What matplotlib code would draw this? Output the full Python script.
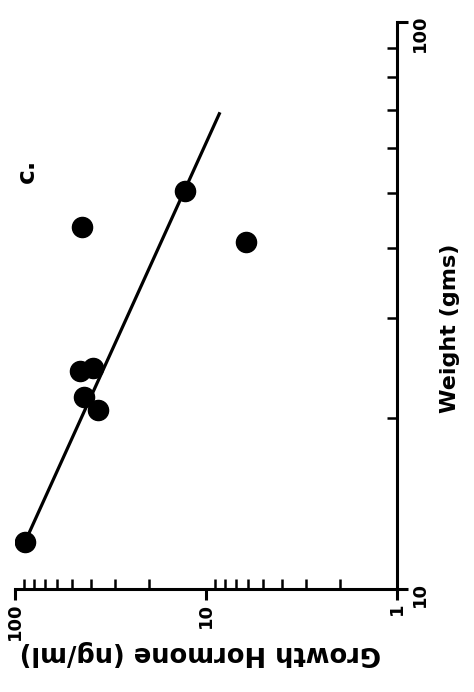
import matplotlib
matplotlib.use("Agg")
import matplotlib.pyplot as plt
from matplotlib.ticker import LogLocator, NullFormatter, FixedLocator

# growth hormone (ng/ml) vs body weight (gms), panel c
weight = [12.1, 24.2, 24.5, 21.8, 20.7, 43.5, 50.4, 40.9]
hormone = [88.7, 45.7, 39.1, 43.6, 36.7, 44.6, 12.9, 6.18]

# fitted line end points (weight, hormone)
fit_weight = [12.1, 69.3]
fit_hormone = [88.7, 8.45]

gh_ticks = [1, 10, 100]
gh_labels = ["1", "10", "100"]
wt_ticks = [10, 100]
wt_labels = ["10", "100"]

plt.rcParams['font.family'] = ['DejaVu Sans']

fig = plt.figure(figsize=(4.74, 6.92), dpi=100)
ax = fig.add_axes([15 / 474, 1 - 589 / 692, 382 / 474, 567 / 692])

# page is turned on its side: hormone runs along the bottom, weight up the right
ax.plot(fit_hormone, fit_weight, color='black', lw=2.3, solid_capstyle='butt')
ax.plot(hormone, weight, 'o', color='black', ms=14.5, mec='black')

ax.set_xscale('log')
ax.set_yscale('log')
ax.set_xlim(100, 1)
ax.set_ylim(10, 100)

for side in ['top', 'left']:
    ax.spines[side].set_visible(False)
for side in ['bottom', 'right']:
    ax.spines[side].set_linewidth(2.2)

ax.xaxis.set_major_locator(FixedLocator(gh_ticks))
ax.set_xticklabels(gh_labels, rotation=90, fontsize=13, fontweight='bold')
ax.xaxis.set_minor_locator(LogLocator(base=10, subs=range(2, 10)))
ax.xaxis.set_minor_formatter(NullFormatter())

ax.yaxis.tick_right()
ax.yaxis.set_label_position('right')
ax.yaxis.set_major_locator(FixedLocator(wt_ticks))
ax.set_yticklabels(wt_labels, rotation=90, fontsize=13, fontweight='bold')
ax.yaxis.set_minor_locator(LogLocator(base=10, subs=range(2, 10)))
ax.yaxis.set_minor_formatter(NullFormatter())

ax.tick_params(which='major', direction='out', length=8, width=2.2, pad=2)
ax.tick_params(which='minor', direction='in', length=7, width=1.8)

ax.set_xlabel("Growth Hormone (ng/ml)", rotation=180, fontsize=18.5,
              fontweight='bold', va='center')
ax.xaxis.set_label_coords(0.484, -0.112)
ax.set_ylabel("Weight (gms)", rotation=90, fontsize=16,
              fontweight='bold', va='center')
ax.yaxis.set_label_coords(1.139, 0.46)

ax.text(0.032, 0.737, "c.", transform=ax.transAxes, rotation=90,
        fontsize=18, fontweight='bold', ha='center', va='center')

fig.savefig("out.png", dpi=100)
